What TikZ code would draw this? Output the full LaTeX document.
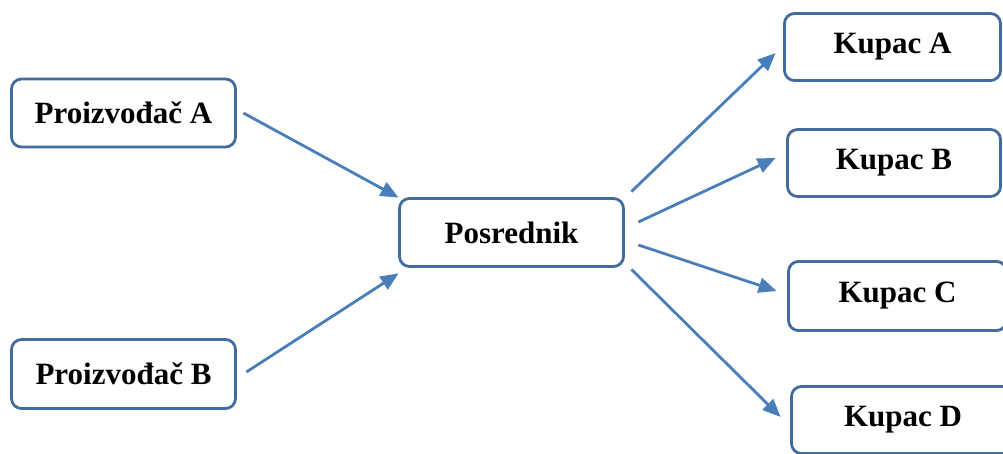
\documentclass[tikz,border=0pt]{standalone}
\usepackage{fontspec}
\setmainfont{Liberation Serif}
\usetikzlibrary{arrows.meta,calc}
\definecolor{boxblue}{RGB}{65,108,158}
\definecolor{arrblue}{RGB}{74,126,187}
\begin{document}
\begin{tikzpicture}[x=1pt,y=-1pt,
  box/.style={draw=boxblue,line width=2.8pt,rounded corners=10pt,fill=white,
    inner sep=0pt,font=\fontsize{31}{36}\selectfont\bfseries},
  conn/.style={draw=arrblue,line width=2.8pt,-{Triangle[length=18pt,width=15pt]}}]
\clip (0,0) rectangle (1003,454);
\fill[white] (0,0) rectangle (1003,454);
\node[box,minimum width=224pt,minimum height=68pt] (pa) at (123.5,113) {Proizvođač A};
\node[box,minimum width=224pt,minimum height=69pt] (pb) at (123.5,374) {Proizvođač B};
\node[box,minimum width=224pt,minimum height=68pt] (pos) at (511.5,232.5) {Posrednik};
\node[box,minimum width=216pt,minimum height=67pt] (ka) at (892.5,47) {Kupac A};
\node[box,minimum width=213pt,minimum height=67pt] (kb) at (894,163) {Kupac B};
\node[box,minimum width=218pt,minimum height=69pt] (kc) at (897.5,296) {Kupac C};
\node[box,minimum width=223pt,minimum height=67pt] (kd) at (903,420) {Kupac D};
\draw[conn] ($(pa.east)+(6.5,0)$) -- ($(pos.north west)+(0.5,0.5)$);
\draw[conn] ($(pb.east)+(9.5,-2)$) -- ($(pos.south west)+(0.5,5.5)$);
\draw[conn] ($(pos.north east)+(6.5,-5.5)$) -- ($(ka.west)+(-7.5,6)$);
\draw[conn] ($(pos.east)+(13.5,-10.5)$) -- ($(kb.west)+(-10.5,-5)$);
\draw[conn] ($(pos.east)+(13.5,12.5)$) -- ($(kc.west)+(-10.5,-5)$);
\draw[conn] ($(pos.south east)+(6.5,1.5)$) -- ($(kd.west)+(-9.5,-3)$);
\end{tikzpicture}
\end{document}
